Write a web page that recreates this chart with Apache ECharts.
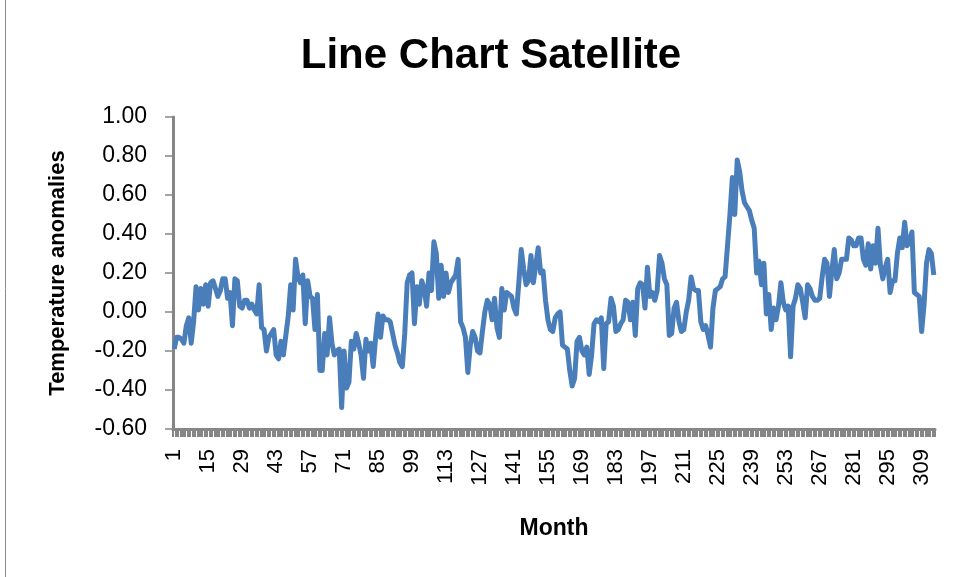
<!DOCTYPE html>
<html>
<head>
<meta charset="utf-8">
<script src="https://cdn.jsdelivr.net/npm/echarts@6/dist/echarts.min.js"></script>
<style>html,body{margin:0;padding:0;background:#fff}#c{width:954px;height:577px}</style>
</head>
<body>
<div id="c"></div>
<script>
// Categories: month numbers 1..314
const monthCount = 314;
const months = Array.from({length: monthCount}, (_, i) => String(i + 1));

// Temperature anomalies, in chunks of 40 months
const anomalies1 = [-0.19,-0.13,-0.13,-0.14,-0.16,-0.07,-0.03,-0.16,-0.05,0.13,0.01,0.12,0.04,0.14,0.03,0.15,0.16,0.12,0.08,0.11,0.17,0.17,0.07,0.10,-0.07,0.17,0.16,0.03,0.02,0.06,0.06,0.02,0.04,0.01,-0.01,0.14,-0.08,-0.09,-0.20,-0.13];
const anomalies2 = [-0.11,-0.09,-0.22,-0.24,-0.15,-0.22,-0.12,-0.02,0.14,0.01,0.27,0.18,0.15,0.19,-0.06,0.16,0.08,0.07,-0.09,0.09,-0.30,-0.30,-0.11,-0.22,-0.03,-0.16,-0.22,-0.20,-0.19,-0.49,-0.20,-0.39,-0.36,-0.15,-0.19,-0.11,-0.16,-0.22,-0.34,-0.14];
const anomalies3 = [-0.20,-0.16,-0.28,-0.13,-0.01,-0.13,-0.02,-0.04,-0.04,-0.05,-0.11,-0.17,-0.21,-0.26,-0.28,-0.11,0.15,0.19,0.20,-0.06,0.13,0.04,0.16,0.12,0.03,0.20,0.11,0.36,0.30,0.07,0.24,0.08,0.20,0.10,0.15,0.17,0.19,0.27,-0.05,-0.08];
const anomalies4 = [-0.13,-0.31,-0.17,-0.10,-0.13,-0.20,-0.21,-0.10,0.00,0.06,0.04,-0.04,0.07,-0.08,-0.13,0.12,0.01,0.10,0.09,0.08,0.02,-0.01,0.15,0.32,0.22,0.14,0.16,0.29,0.15,0.24,0.33,0.20,0.21,0.06,-0.04,-0.09,-0.10,-0.03,-0.01,0.00];
const anomalies5 = [-0.17,-0.18,-0.19,-0.30,-0.38,-0.34,-0.15,-0.13,-0.20,-0.22,-0.18,-0.32,-0.22,-0.06,-0.04,-0.05,-0.03,-0.29,-0.06,-0.05,0.07,0.03,-0.10,-0.09,-0.06,-0.04,0.06,0.05,-0.04,0.05,-0.12,0.12,0.15,0.14,0.02,0.23,0.08,0.10,0.06,0.11];
const anomalies6 = [0.29,0.25,0.17,0.14,-0.12,-0.11,0.02,0.05,-0.05,-0.10,-0.09,0.00,0.06,0.18,0.12,0.11,0.11,-0.05,-0.09,-0.07,-0.12,-0.18,0.02,0.11,0.12,0.13,0.17,0.18,0.34,0.50,0.69,0.50,0.78,0.72,0.62,0.56,0.54,0.52,0.47,0.43];
const anomalies7 = [0.20,0.26,0.14,0.25,-0.01,0.09,-0.09,0.02,-0.04,0.03,0.15,0.05,0.01,0.03,-0.23,0.03,0.07,0.14,0.12,0.05,-0.03,0.14,0.12,0.08,0.06,0.06,0.07,0.18,0.27,0.25,0.08,0.21,0.32,0.17,0.20,0.27,0.27,0.27,0.38,0.37];
const anomalies8 = [0.34,0.34,0.38,0.38,0.27,0.24,0.35,0.22,0.34,0.25,0.43,0.24,0.17,0.23,0.27,0.10,0.16,0.16,0.30,0.38,0.33,0.46,0.34,0.36,0.41,0.10,0.09,0.08,-0.10,0.04,0.25,0.32,0.30,0.19];
const anomalies = [].concat(anomalies1, anomalies2, anomalies3, anomalies4, anomalies5, anomalies6, anomalies7, anomalies8);

// Axis settings
const yMin = -0.6, yMax = 1.0, yStep = 0.2;
const labelEvery = 14;

const chart = echarts.init(document.getElementById('c'), null, {renderer: 'canvas'});
const gray = '#868686';
const font = 'Liberation Sans, Arial, sans-serif';
chart.setOption({
  animation: false,
  backgroundColor: '#fff',
  graphic: [{
    type: 'rect', silent: true, z: -1,
    shape: {x: 5.5, y: -10, width: 970, height: 600},
    style: {fill: 'none', stroke: '#8c8c8c', lineWidth: 1}
  }],
  title: {
    text: 'Line Chart Satellite',
    left: 486, top: 30, textAlign: 'center',
    textStyle: {fontFamily: font, fontWeight: 'bold', fontSize: 42, color: '#000'}
  },
  grid: {left: 173, right: 19, top: 117, bottom: 148, containLabel: false},
  xAxis: {
    type: 'category',
    data: months,
    boundaryGap: true,
    name: 'Month',
    nameLocation: 'middle',
    nameGap: 88,
    nameTextStyle: {fontFamily: font, fontWeight: 'bold', fontSize: 23, color: '#000'},
    axisLine: {onZero: false, lineStyle: {color: gray, width: 3}},
    axisTick: {show: true, interval: 0, length: 8, lineStyle: {color: gray, width: 2}},
    axisLabel: {interval: labelEvery - 1, rotate: 90, margin: 20, fontFamily: font, fontSize: 22, color: '#000'},
    splitLine: {show: false}
  },
  yAxis: {
    type: 'value',
    min: yMin, max: yMax, interval: yStep,
    name: 'Temperature anomalies',
    nameLocation: 'middle',
    nameGap: 104,
    nameRotate: 90,
    nameTextStyle: {fontFamily: font, fontWeight: 'bold', fontSize: 22, color: '#000'},
    axisLine: {show: true, lineStyle: {color: gray, width: 3}},
    axisTick: {show: true, length: 8, lineStyle: {color: gray, width: 1.5}},
    axisLabel: {margin: 26, fontFamily: font, fontSize: 23, color: '#000', formatter: v => v.toFixed(2)},
    splitLine: {show: false}
  },
  series: [{
    type: 'line',
    data: anomalies,
    showSymbol: false,
    symbol: 'none',
    smooth: false,
    lineStyle: {color: '#4a7ebb', width: 5, join: 'round'},
    itemStyle: {color: '#4a7ebb'}
  }]
});
</script>
</body>
</html>
